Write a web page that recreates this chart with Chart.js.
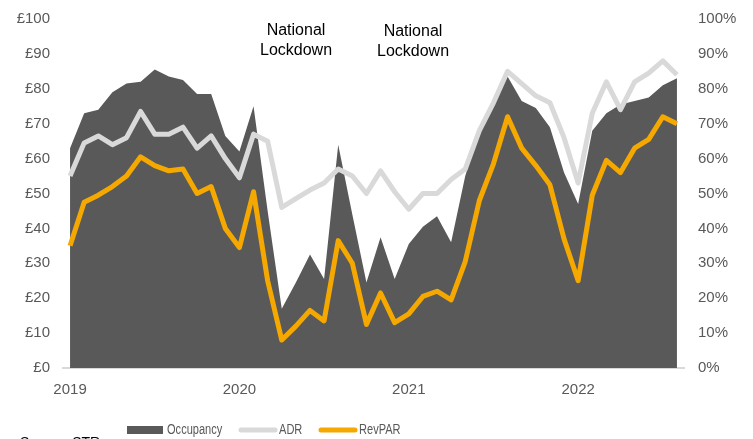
<!DOCTYPE html>
<html>
<head>
<meta charset="utf-8">
<script src="https://cdn.jsdelivr.net/npm/chart.js@4/dist/chart.umd.min.js"></script>
<style>
  html, body { margin: 0; padding: 0; background: #fff; }
  #wrap { width: 753px; height: 439px; position: relative; }
</style>
</head>
<body>
<div id="wrap"><canvas id="myChart"></canvas></div>
<script>
const years = ['2019', '2020', '2021', '2022'];
const months = ['Jan', 'Feb', 'Mar', 'Apr', 'May', 'Jun', 'Jul', 'Aug', 'Sep', 'Oct', 'Nov', 'Dec'];

// Occupancy %, right axis
const occupancy = [63, 73, 74, 79, 81.5, 82, 85.5, 83.5, 82.5, 78.5, 78.5, 66.5,
  62, 75, 45, 17, 24.5, 32.5, 25.5, 64, 44, 24.5, 37.5, 25.5,
  35.5, 40.5, 43.5, 36, 55, 68, 76.5, 83.5, 76.5, 74.5, 69, 56,
  47, 68, 73, 75.5, 76.5, 77.5, 81, 83];
// ADR £, left axis
const adr = [55, 64.5, 66.5, 64, 66, 73.5, 67, 67, 69, 63, 66.5, 60,
  54.5, 67, 65, 46, 48.5, 51, 53, 57, 55, 50, 56.5, 50.5,
  45.5, 50, 50, 54, 57, 68, 76, 85, 81.5, 78, 76, 66,
  53, 73, 82, 74, 82, 84.5, 88, 84];
// RevPAR £, left axis
const revpar = [35, 47.5, 49.5, 52, 55, 60.5, 58, 56.5, 57, 50, 52, 40,
  34.5, 50.5, 25, 8, 12, 16.5, 13.5, 36.5, 30, 12.5, 21.5, 13,
  15.5, 20.5, 22, 19.5, 30.5, 48, 58.5, 72, 63, 58, 52.5, 37,
  25, 49.5, 59.5, 56, 63, 65.5, 72, 70];

const labels = [];
years.forEach(function(y) {
  months.forEach(function(m) { labels.push(m + ' ' + y); });
});
labels.length = occupancy.length;

const FONT = '"Liberation Sans", Arial, sans-serif';
const GREY_TEXT = '#595959';

// narrow text, like Arial Narrow in the legend
function narrowText(ctx, txt, x, y, squeeze) {
  ctx.save();
  ctx.translate(x, y);
  ctx.scale(squeeze, 1);
  ctx.fillText(txt, 0, 0);
  ctx.restore();
}

const extras = {
  id: 'extras',
  afterDraw(chart) {
    const ctx = chart.ctx;
    ctx.save();
    // lockdown notes
    ctx.fillStyle = '#000';
    ctx.font = '16px ' + FONT;
    ctx.textAlign = 'center';
    ctx.textBaseline = 'middle';
    ctx.fillText('National', 296, 31);
    ctx.fillText('Lockdown', 296, 51);
    ctx.fillText('National', 413, 32);
    ctx.fillText('Lockdown', 413, 52);

    // legend
    const ly = 430;
    ctx.fillStyle = '#595959';
    ctx.fillRect(127, ly - 4, 36, 8);
    ctx.lineCap = 'round';
    ctx.lineWidth = 5;
    ctx.strokeStyle = '#d9d9d9';
    ctx.beginPath(); ctx.moveTo(241, ly); ctx.lineTo(275, ly); ctx.stroke();
    ctx.strokeStyle = '#f5a800';
    ctx.beginPath(); ctx.moveTo(321, ly); ctx.lineTo(355, ly); ctx.stroke();
    ctx.fillStyle = GREY_TEXT;
    ctx.font = '14px ' + FONT;
    ctx.textAlign = 'left';
    narrowText(ctx, 'Occupancy', 167, ly, 0.79);
    narrowText(ctx, 'ADR', 279, ly, 0.79);
    narrowText(ctx, 'RevPAR', 359, ly, 0.79);

    // source line, cut by the bottom edge
    ctx.fillStyle = '#000';
    ctx.textBaseline = 'top';
    ctx.fillText('Source: STR', 20, 436);
    ctx.restore();
  }
};

function fixY(width) {
  return function(s) {
    s.width = width;
    s.paddingTop = 0;
    s.paddingBottom = 0;
  };
}

const config = {
  type: 'line',
  data: {
    labels: labels,
    datasets: [
      {
        label: 'RevPAR',
        data: revpar,
        yAxisID: 'y',
        borderColor: '#f5a800',
        borderWidth: 5,
        borderJoinStyle: 'round',
        pointRadius: 0,
        fill: false,
        tension: 0,
        order: 1
      },
      {
        label: 'ADR',
        data: adr,
        yAxisID: 'y',
        borderColor: '#d9d9d9',
        borderWidth: 5,
        borderJoinStyle: 'round',
        pointRadius: 0,
        fill: false,
        tension: 0,
        order: 2
      },
      {
        label: 'Occupancy',
        data: occupancy,
        yAxisID: 'y1',
        borderWidth: 0,
        borderColor: 'rgba(0,0,0,0)',
        backgroundColor: '#595959',
        pointRadius: 0,
        fill: 'origin',
        tension: 0,
        order: 3
      }
    ]
  },
  options: {
    responsive: true,
    maintainAspectRatio: false,
    animation: false,
    layout: { padding: { top: 19, bottom: 27 } },
    plugins: {
      legend: { display: false },
      tooltip: { enabled: false }
    },
    scales: {
      x: {
        offset: true,
        grid: { display: false, drawTicks: false },
        border: { display: true, color: '#d9d9d9', width: 2 },
        ticks: {
          autoSkip: false,
          maxRotation: 0,
          padding: 13,
          color: GREY_TEXT,
          font: { family: FONT, size: 15 },
          callback: function(v, i) {
            return i % 12 === 0 ? years[i / 12] : '';
          }
        }
      },
      y: {
        position: 'left',
        min: 0,
        max: 100,
        grid: { display: false, drawTicks: false },
        border: { display: false },
        afterFit: fixY(63),
        ticks: {
          stepSize: 10,
          padding: 13,
          color: GREY_TEXT,
          font: { family: FONT, size: 15 },
          callback: function(v) { return '£' + v; }
        }
      },
      y1: {
        position: 'right',
        min: 0,
        max: 100,
        grid: { display: false, drawTicks: false },
        border: { display: false },
        afterFit: fixY(69),
        ticks: {
          stepSize: 10,
          padding: 14,
          color: GREY_TEXT,
          font: { family: FONT, size: 15 },
          callback: function(v) { return v + '%'; }
        }
      }
    }
  },
  plugins: [extras]
};

const myChart = new Chart(document.getElementById('myChart'), config);
</script>
</body>
</html>
